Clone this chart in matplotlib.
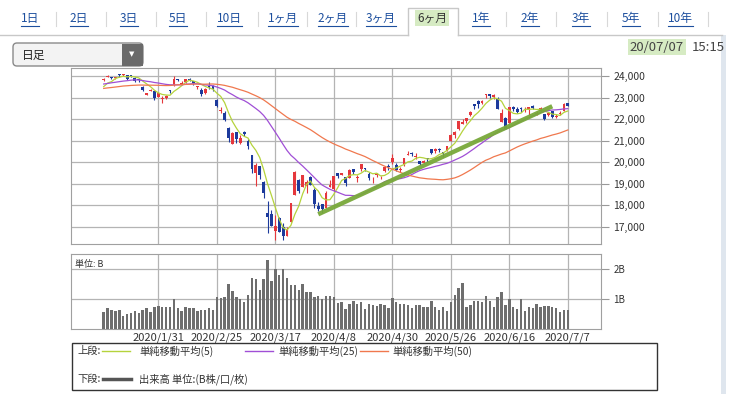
import numpy as np
import pandas as pd
import matplotlib
matplotlib.use('Agg')
import matplotlib.pyplot as plt
from matplotlib.patches import Rectangle, FancyBboxPatch

plt.rcParams['font.family'] = ['Noto Sans CJK JP', 'DejaVu Sans']

# ---- data (daily candles, 2020/1/10 - 2020/7/7) ----
dates = ['1/10', '1/14', '1/15', '1/16', '1/17', '1/20', '1/21', '1/22', '1/23', '1/24',
         '1/27', '1/28', '1/29', '1/30', '1/31',
         '2/3', '2/4', '2/5', '2/6', '2/7', '2/10', '2/12', '2/13', '2/14', '2/17', '2/18',
         '2/19', '2/20', '2/21', '2/25', '2/26', '2/27', '2/28',
         '3/2', '3/3', '3/4', '3/5', '3/6', '3/9', '3/10', '3/11', '3/12', '3/13', '3/16',
         '3/17', '3/18', '3/19', '3/23', '3/24', '3/25', '3/26', '3/27', '3/30', '3/31',
         '4/1', '4/2', '4/3', '4/6', '4/7', '4/8', '4/9', '4/10', '4/13', '4/14', '4/15',
         '4/16', '4/17', '4/20', '4/21', '4/22', '4/23', '4/24', '4/27', '4/28', '4/30',
         '5/1', '5/7', '5/8', '5/11', '5/12', '5/13', '5/14', '5/15', '5/18', '5/19', '5/20',
         '5/21', '5/22', '5/25', '5/26', '5/27', '5/28', '5/29',
         '6/1', '6/2', '6/3', '6/4', '6/5', '6/8', '6/9', '6/10', '6/11', '6/12', '6/15',
         '6/16', '6/17', '6/18', '6/19', '6/22', '6/23', '6/24', '6/25', '6/26', '6/29', '6/30',
         '7/1', '7/2', '7/3', '7/6', '7/7']

opens = [23813, 23969, 23950, 23900, 24090, 24040, 24051, 24050, 23937, 23860,
         23505, 23124, 23324, 23303, 23049,
         22920, 22980, 23340, 23606, 23856, 23640, 23722, 23850, 23784, 23500, 23360, 23208, 23560, 23542,
         22878, 22400, 22263, 21566,
         20849, 21395, 20897, 21404, 20996, 20343, 19474, 19811, 19064, 17649, 17586, 16800, 17387, 16995,
         16570, 17206, 18446, 19185, 18831, 18884, 19299,
         18686, 17934, 18059, 17860, 18820, 18753, 19507, 19411, 19297, 19280, 19701, 19244, 19682, 19704,
         19468, 19097, 19420, 19240, 19568, 19788, 19986,
         19885, 19641, 19893, 20338, 20368, 20224, 20040, 19951, 20162, 20626, 20518, 20612, 20451, 20531,
         21004, 21268, 21536, 21780,
         21923, 22177, 22700, 22866, 22768, 23106, 23183, 23048, 22956, 21856, 22074, 21820, 22562, 22483,
         22501, 22407, 22438, 22610, 22248, 22386, 22250, 22177,
         22357, 22120, 22237, 22369, 22730]

highs = [23903, 24059, 23985, 23966, 24115, 24115, 24064, 24057, 23941, 23872,
         23563, 23228, 23416, 23321, 23270,
         23087, 23104, 23351, 23995, 23873, 23778, 23880, 23908, 23786, 23560, 23448, 23436, 23720, 23578,
         22922, 22545, 22371, 21617,
         21394, 21398, 21245, 21429, 21065, 20347, 19953, 19811, 19140, 18184, 17785, 17557, 17421, 17160,
         16975, 18100, 19564, 19196, 19389, 19186, 19340,
         18784, 18132, 18059, 18672, 19150, 19353, 19507, 19505, 19297, 19687, 19701, 19401, 19922, 19711,
         19528, 19300, 19486, 19329, 19831, 19899, 20365,
         19941, 19778, 20212, 20534, 20452, 20429, 20045, 20119, 20174, 20628, 20646, 20637, 20479, 20745,
         21300, 21438, 21936, 22007,
         22062, 22357, 22720, 22907, 22910, 23186, 23185, 23150, 23039, 22470, 22100, 22582, 22630, 22560,
         22570, 22559, 22560, 22666, 22381, 22554, 22260, 22350,
         22391, 22250, 22357, 22742, 22738]

lows = [23761, 23951, 23865, 23863, 23977, 24031, 23840, 23950, 23708, 23749,
        23300, 23116, 23291, 22892, 23018,
        22775, 22930, 23200, 23556, 23754, 23640, 23700, 23770, 23592, 23420, 23100, 23189, 23400, 23314,
        22553, 22280, 21909, 20916,
        20834, 20877, 20847, 21212, 20613, 19473, 18891, 19213, 18339, 16690, 17002, 16378, 16726, 16358,
        16552, 17206, 18446, 18578, 18831, 18578, 18917,
        17871, 17707, 17646, 17860, 18820, 18642, 19268, 19390, 18890, 19280, 19443, 19085, 19608, 19569,
        19188, 19044, 19300, 19197, 19559, 19614, 19923,
        19575, 19540, 19841, 20327, 20273, 20144, 19864, 19950, 19997, 20389, 20430, 20491, 20226, 20531,
        20973, 21144, 21508, 21780,
        21824, 22150, 22450, 22538, 22727, 22992, 22973, 22928, 22463, 21854, 21530, 21820, 22392, 22276,
        22345, 22347, 22210, 22465, 22175, 22340, 21944, 22136,
        22058, 22050, 22193, 22369, 22598]

closes = [23850, 24025, 23916, 23933, 24041, 24083, 23865, 24031, 23795, 23827,
          23343, 23216, 23379, 22977, 23205,
          22972, 23084, 23320, 23873, 23828, 23686, 23861, 23828, 23688, 23523, 23194, 23400, 23479, 23387,
          22605, 22426, 21948, 21143,
          21344, 21082, 21100, 21329, 20749, 19698, 19867, 19416, 18560, 17431, 17002, 17011, 16726, 16552,
          16887, 18092, 19546, 18665, 19389, 19084, 18917,
          18065, 17819, 17820, 18576, 18950, 19353, 19345, 19499, 19043, 19639, 19550, 19290, 19897, 19669,
          19281, 19137, 19429, 19262, 19783, 19771, 20193,
          19619, 19674, 20179, 20390, 20366, 20267, 19914, 20037, 20133, 20433, 20595, 20552, 20388, 20741,
          21271, 21419, 21916, 21877,
          22062, 22325, 22613, 22695, 22863, 23178, 23091, 23124, 22472, 22305, 21530, 22582, 22455, 22355,
          22478, 22437, 22549, 22534, 22259, 22512, 21995, 22288,
          22122, 22145, 22306, 22714, 22614]

# closes before 1/10, needed for the 25 / 50 day averages
prev_close = [22867, 22974, 22843, 22927,
              22850, 23251, 23303, 23330, 23391, 23331, 23520, 23319, 23141, 23303,
              23416, 23292, 23148, 23038, 23112, 23292, 23373, 23437, 23409, 23293,
              23529, 23379, 23135, 23300, 23354, 23430, 23410, 23391, 23424, 24023,
              23952, 24066, 23934, 23864, 23816, 23821, 23830, 23782, 23924, 23837, 23656,
              23204, 23575, 23204, 23739]

# volume (billion shares)
volume = [0.57, 0.68, 0.61, 0.59, 0.61, 0.42, 0.48, 0.51, 0.59, 0.51, 0.64, 0.68, 0.57, 0.73, 0.76,
          0.73, 0.72, 0.73, 1.00, 0.68, 0.59, 0.73, 0.68, 0.70, 0.59, 0.62, 0.64, 0.68, 0.64,
          1.07, 1.03, 1.07, 1.50, 1.28, 1.07, 1.00, 0.89, 1.14, 1.70, 1.67, 1.31, 1.67, 2.31, 1.59, 2.00,
          1.79, 2.00, 1.70, 1.48, 1.48, 1.29, 1.50, 1.23, 1.23, 1.07, 1.11, 1.01, 1.08, 1.09, 1.07,
          0.86, 0.88, 0.67, 0.82, 0.93, 0.82, 0.88, 0.67, 0.82, 0.78, 0.77, 0.84, 0.80, 0.69, 1.04,
          0.88, 0.84, 0.84, 0.78, 0.69, 0.80, 0.78, 0.74, 0.74, 0.93, 0.74, 0.63, 0.73, 0.58, 0.88,
          1.13, 1.36, 1.53, 0.72, 0.80, 0.93, 0.93, 0.88, 1.10, 0.91, 0.74, 1.06, 1.22, 0.80, 1.00,
          0.72, 0.67, 1.00, 0.58, 0.72, 0.69, 0.82, 0.71, 0.77, 0.77, 0.74, 0.69, 0.54, 0.61, 0.63]

tick_dates = ['1/31', '2/25', '3/17', '4/8', '4/30', '5/26', '6/16', '7/7']
tick_labels = ['2020/1/31', '2020/2/25', '2020/3/17', '2020/4/8',
               '2020/4/30', '2020/5/26', '2020/6/16', '2020/7/7']
price_ticks = [17000, 18000, 19000, 20000, 21000, 22000, 23000, 24000]

# hand drawn trend line (start / end)
trend_dates = ['4/2', '7/1']
trend_y = [17570, 22600]

tabs = ['1日', '2日', '3日', '5日', '10日', '1ヶ月', '2ヶ月', '3ヶ月', '6ヶ月',
        '1年', '2年', '3年', '5年', '10年']
selected_tab = '6ヶ月'

ma_periods = [5, 25, 50]
ma_colors = ['#b5d33c', '#a04fd6', '#f0784e']
UP, DOWN = '#e5373c', '#1c3a9c'

W, H = 732, 394
fig = plt.figure(figsize=(W / 100, H / 100), dpi=100)

# ---- page chrome, drawn in pixel coordinates ----
bg = fig.add_axes([0, 0, 1, 1])
bg.set_xlim(0, W)
bg.set_ylim(H, 0)
bg.axis('off')

tab_x = [30, 79, 129, 178, 229, 283, 333, 381, 432, 481, 530, 581, 631, 680]
sep_x = [56, 106, 156, 206, 258, 307, 356, 506, 556, 607, 658, 708]
bg.plot([0, 408], [35, 35], color='#c8c8c8', lw=1)
bg.plot([458, 722], [35, 35], color='#c8c8c8', lw=1)
bg.plot([408, 408, 458, 458], [35, 8, 8, 35], color='#c8c8c8', lw=1)
for sx in sep_x:
    bg.plot([sx, sx], [12, 26], color='#d8d8d8', lw=0.8)
tab_texts = []
for lab, tx in zip(tabs, tab_x):
    if lab == selected_tab:
        bg.text(tx, 18, lab, ha='center', va='center', fontsize=8.5, color='#333333',
                bbox=dict(facecolor='#d6ebc3', edgecolor='none', pad=1.2))
    else:
        t = bg.text(tx, 18, lab, ha='center', va='center', fontsize=8.5, color='#1d4f9e')
        tab_texts.append(t)
renderer = fig.canvas.get_renderer()
for t in tab_texts:
    bb = t.get_window_extent(renderer)
    bg.plot([bb.x0, bb.x1], [25.5, 25.5], color='#1d4f9e', lw=0.8)

# right edge of panel
bg.add_patch(Rectangle((721, 35), 5, H - 35, facecolor='#dfe6ee', edgecolor='none'))

# dropdown
bg.add_patch(FancyBboxPatch((13, 43), 130, 23, boxstyle='round,pad=0,rounding_size=4',
                            facecolor='#f3f3f3', edgecolor='#8a8a8a', lw=1))
bg.add_patch(Rectangle((122, 43.5), 20.5, 22, facecolor='#6a6a6a', edgecolor='none'))
bg.text(132, 54.5, '▼', ha='center', va='center', fontsize=5, color='white',
        family=['DejaVu Sans'])
bg.text(22, 55, '日足', ha='left', va='center', fontsize=8.5, color='#222222')

# timestamp
bg.text(725, 47, '15:15', ha='right', va='center', fontsize=9.5, color='#444444')
bg.text(684, 47, '20/07/07', ha='right', va='center', fontsize=9.5, color='#444444',
        bbox=dict(facecolor='#d6ebc3', edgecolor='none', pad=1.2))

# legend box
fs_leg = 7.4
bg.add_patch(Rectangle((72, 343), 585, 47, facecolor='white', edgecolor='#333333', lw=1))
bg.text(77, 351, '上段:', ha='left', va='center', fontsize=fs_leg, color='#333333')
bg.plot([102, 130], [351, 351], color=ma_colors[0], lw=1)
bg.text(139, 351, '単純移動平均(5)', ha='left', va='center', fontsize=fs_leg, color='#333333')
bg.plot([245, 273], [351, 351], color=ma_colors[1], lw=1)
bg.text(278, 351, '単純移動平均(25)', ha='left', va='center', fontsize=fs_leg, color='#333333')
bg.plot([360, 388], [351, 351], color=ma_colors[2], lw=1)
bg.text(392, 351, '単純移動平均(50)', ha='left', va='center', fontsize=fs_leg, color='#333333')
bg.text(77, 379, '下段:', ha='left', va='center', fontsize=fs_leg, color='#333333')
bg.plot([103, 131], [379, 379], color='#555555', lw=2.5)
bg.text(139, 379, '出来高 単位:(B株/口/枚)', ha='left', va='center', fontsize=fs_leg, color='#333333')

# ---- price panel ----
x = np.arange(len(dates))
tick_pos = [dates.index(d) for d in tick_dates]
left_px, right_px = 70.7, 601
xlim = (-8.46, 127.5)

ax = fig.add_axes([left_px / W, 1 - 244 / H, (right_px - left_px) / W, (244 - 68.3) / H])
ax.set_xlim(*xlim)
ax.set_ylim(16185, 24368)

o = np.array(opens)
c = np.array(closes)
colors = [UP if cc >= oo else DOWN for oo, cc in zip(o, c)]
ax.vlines(x, lows, highs, colors=colors, lw=0.8, zorder=3)
body = np.maximum(np.abs(c - o), 40)
ax.bar(x, body, bottom=np.minimum(o, c), width=0.72, color=colors, lw=0, zorder=3)

all_close = pd.Series(prev_close + closes, dtype=float)
n_prev = len(prev_close)
for p, col in zip(ma_periods, ma_colors):
    ma = all_close.rolling(p).mean().iloc[n_prev:].to_numpy()
    ax.plot(x, ma, color=col, lw=0.9, zorder=4)

ax.plot([dates.index(d) for d in trend_dates], trend_y, color='#78a83a', lw=3.2,
        solid_capstyle='butt', alpha=0.95, zorder=5)

ax.set_xticks(tick_pos)
ax.set_xticklabels([])
ax.set_yticks(price_ticks)
ax.set_yticklabels([f'{v:,}' for v in price_ticks])
ax.yaxis.tick_right()
ax.tick_params(axis='y', length=6, color='#999999', labelsize=7.5, labelcolor='#333333', pad=3)
ax.tick_params(axis='x', length=0)
ax.grid(True, color='#b4b4b4', lw=0.9)
ax.set_axisbelow(True)
for s in ax.spines.values():
    s.set_color('#a0a0a0')

# ---- volume panel ----
axv = fig.add_axes([left_px / W, 1 - 328.5 / H, (right_px - left_px) / W, (328.5 - 254.3) / H])
axv.set_xlim(*xlim)
axv.set_ylim(0, 2.5)
axv.bar(x, volume, width=0.62, color='#6e6e6e', lw=0, zorder=3)
axv.set_xticks(tick_pos)
axv.set_xticklabels(tick_labels)
axv.set_yticks([1, 2])
axv.set_yticklabels(['1B', '2B'])
axv.yaxis.tick_right()
axv.tick_params(axis='y', length=6, color='#999999', labelsize=7, labelcolor='#333333', pad=3)
axv.tick_params(axis='x', length=0, labelsize=8, labelcolor='#333333', pad=3)
axv.grid(True, color='#b4b4b4', lw=0.9)
axv.set_axisbelow(True)
for s in axv.spines.values():
    s.set_color('#a0a0a0')
axv.text(0.008, 0.93, '単位: B', transform=axv.transAxes, ha='left', va='top',
         fontsize=6.5, color='#333333')

fig.savefig('out.png', dpi=100)
